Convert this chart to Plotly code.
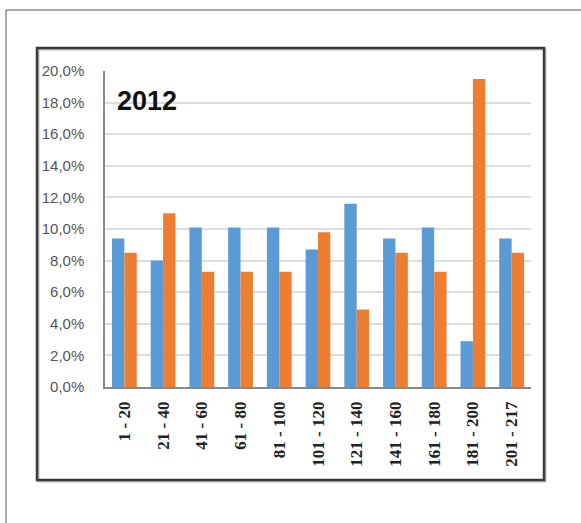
import plotly.graph_objects as go

categories = ["1 - 20", "21 - 40", "41 - 60", "61 - 80", "81 - 100", "101 - 120",
              "121 - 140", "141 - 160", "161 - 180", "181 - 200", "201 - 217"]
series_blue = [9.4, 8.0, 10.1, 10.1, 10.1, 8.7, 11.6, 9.4, 10.1, 2.9, 9.4]
series_orange = [8.5, 11.0, 7.3, 7.3, 7.3, 9.8, 4.9, 8.5, 7.3, 19.5, 8.5]
y_ticks = [0, 2, 4, 6, 8, 10, 12, 14, 16, 18, 20]
y_tick_labels = [f"{v:.1f}%".replace(".", ",") for v in y_ticks]
title_text = "2012"

W, H = 581, 523
L, R, T, B = 105, 531, 71, 387

def px(x):
    return (x - L) / (R - L)

def py(y):
    return (B - y) / (B - T)

fig = go.Figure()
fig.add_trace(go.Bar(x=categories, y=series_blue, marker=dict(color="#5B9BD5", line=dict(width=0)),
                     showlegend=False))
fig.add_trace(go.Bar(x=categories, y=series_orange, marker=dict(color="#ED7D31", line=dict(width=0)),
                     showlegend=False))

shapes = [
    dict(type="rect", xref="paper", yref="paper", x0=px(6), x1=px(590), y0=py(10), y1=py(540),
         line=dict(color="#555555", width=1), layer="below"),
    dict(type="rect", xref="paper", yref="paper", x0=px(38.5), x1=px(545.5), y0=py(49.5), y1=py(481.5),
         line=dict(color="#bbbbbb", width=2), layer="below"),
    dict(type="rect", xref="paper", yref="paper", x0=px(37), x1=px(544), y0=py(48), y1=py(480),
         line=dict(color="#3a3a3a", width=2.5), layer="below"),
]

fig.update_layout(
    width=W, height=H,
    margin=dict(l=L, r=W - R, t=T, b=H - B),
    paper_bgcolor="white", plot_bgcolor="white",
    barmode="group", bargap=0.36, bargroupgap=0,
    shapes=shapes,
    annotations=[dict(text="<b>" + title_text + "</b>", xref="paper", yref="paper",
                      x=px(147), y=py(101), xanchor="center", yanchor="middle", showarrow=False,
                      font=dict(family="Liberation Sans, Arial", size=27, color="#111111"))],
    xaxis=dict(tickangle=-90, showline=True, linecolor="#888888", linewidth=1.5,
               tickfont=dict(family="Liberation Serif, Times New Roman", size=17, color="#222222",
                             weight="bold"),
               ticklabelstandoff=6, showgrid=False),
    yaxis=dict(range=[0, 20], tickvals=y_ticks, ticktext=y_tick_labels,
               showline=True, linecolor="#888888", linewidth=1.5,
               gridcolor="#dddddd", gridwidth=1.5, zeroline=False,
               tickfont=dict(family="Liberation Sans, Arial", size=15, color="#555555"),
               ticklabelstandoff=16),
)

fig.write_html("out.html")
